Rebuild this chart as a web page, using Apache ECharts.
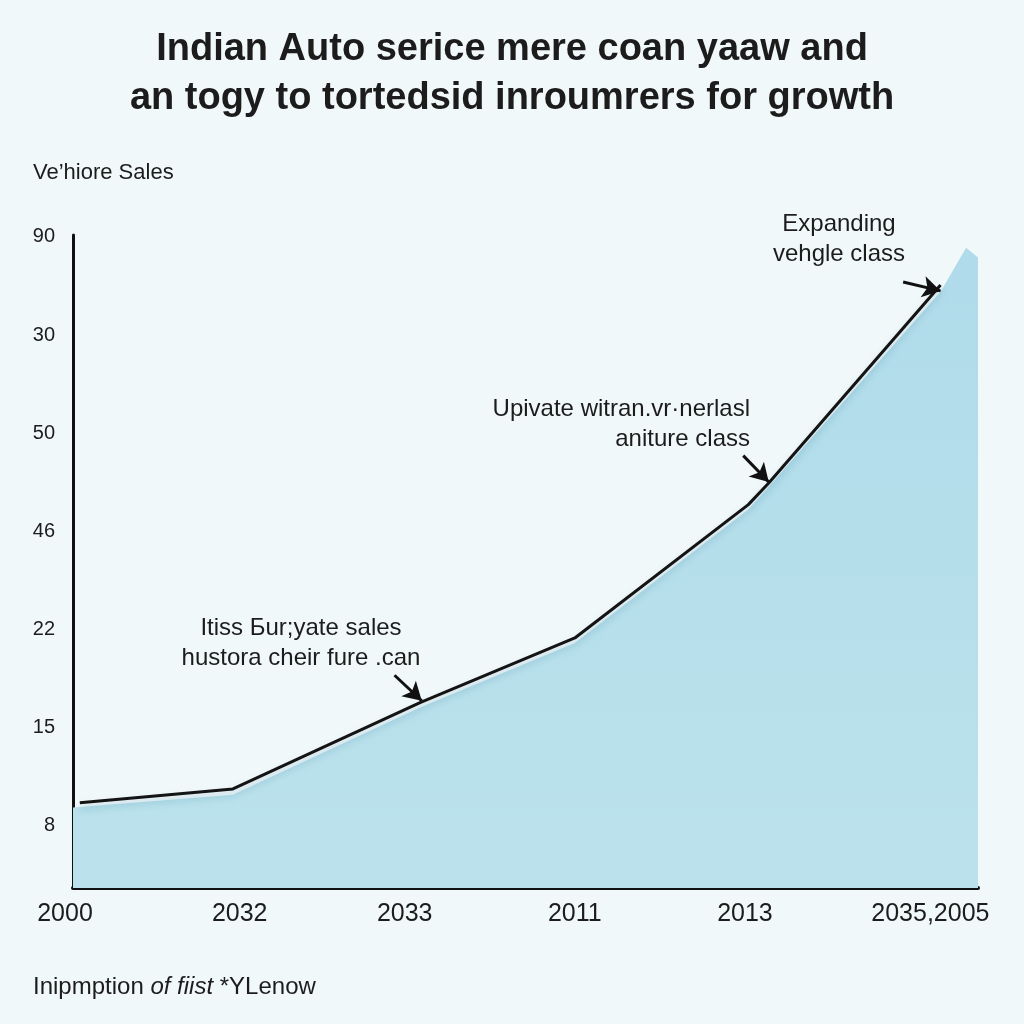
<!DOCTYPE html>
<html>
<head>
<meta charset="utf-8">
<style>
  html, body { margin: 0; padding: 0; background: #f1f8fa; }
  #chart { width: 1024px; height: 1024px; }
</style>
<script src="https://cdn.jsdelivr.net/npm/echarts@6/dist/echarts.min.js"></script>
</head>
<body>
<div id="chart"></div>
<script>
// ---- data (axis units) ----
var xTickLabels = ['2000', '2032', '2033', '2011', '2013', '2035,2005'];
var xTickPositions = [0, 0.98, 1.95, 2.95, 3.95, 5.04];
var yTickLabels = ['8', '15', '22', '46', '50', '30', '90'];
var yTickPositions = [0.64, 1.64, 2.64, 3.64, 4.64, 5.64, 6.64];

var lineX = [0.04, 0.94, 2.04, 2.95, 3.97, 4.09, 5.10];
var lineY = [0.87, 1.01, 1.89, 2.55, 3.91, 4.13, 6.15];

var areaX = [0.00, 0.94, 2.04, 2.95, 3.97, 5.10, 5.25, 5.32];
var areaY = [0.82, 0.95, 1.84, 2.50, 3.86, 6.08, 6.53, 6.43];

var arrows = [
  [[1.89, 2.17], [2.05, 1.91]],
  [[3.94, 4.41], [4.09, 4.14]],
  [[4.88, 6.18], [5.10, 6.09]]
];

var titleText = 'Indian Auto serice mere coan yaaw and\nan togy to tortedsid inrоumrers for growth';
var yAxisTitle = 'Ve\u2019hiore Sales';
var note1 = ['Itiss \u0411ur;yate sales', 'hustora cheir fure .can'];
var note2 = ['Upivate witran.vr\u00b7nerlasl', 'aniture class'];
var note3 = ['Expanding', 'vehgle class'];

function pairs(xs, ys) { return xs.map(function (x, i) { return [x, ys[i]]; }); }

var chart = echarts.init(document.getElementById('chart'));
var font = 'Liberation Sans, Arial, sans-serif';
var ink = '#1c1c1c';

chart.setOption({
  backgroundColor: '#f1f8fa',
  animation: false,
  title: {
    text: titleText,
    left: 'center',
    top: 20,
    textStyle: { fontFamily: font, fontSize: 38, fontWeight: 'bold', color: ink, lineHeight: 49 }
  },
  grid: { left: 73, right: 46, top: 235, bottom: 136, containLabel: false },
  xAxis: {
    type: 'value',
    min: 0,
    max: 5.32,
    splitLine: { show: false },
    axisLine: { onZero: false, lineStyle: { color: '#111', width: 4 } },
    axisTick: { show: false },
    axisLabel: {
      customValues: xTickPositions,
      margin: 14,
      fontFamily: font,
      fontSize: 25,
      color: ink,
      formatter: function (v) {
        var i = xTickPositions.indexOf(v);
        if (i === 0) return '{a|' + xTickLabels[i] + '}';
        return i >= 0 ? xTickLabels[i] : '';
      },
      rich: { a: { fontFamily: font, fontSize: 25, color: ink, padding: [0, 16, 0, 0] } }
    }
  },
  yAxis: {
    type: 'value',
    min: 0,
    max: 6.66,
    splitLine: { show: false },
    axisLine: { show: true, onZero: false, lineStyle: { color: '#111', width: 3 } },
    axisTick: { show: false },
    axisLabel: {
      customValues: yTickPositions,
      margin: 18,
      fontFamily: font,
      fontSize: 20,
      color: ink,
      formatter: function (v) {
        var i = yTickPositions.indexOf(v);
        return i >= 0 ? yTickLabels[i] : '';
      }
    }
  },
  series: [
    {
      type: 'line',
      data: pairs(areaX, areaY),
      symbol: 'none',
      lineStyle: { width: 0, opacity: 0 },
      areaStyle: {
        origin: 'start',
        opacity: 1,
        color: new echarts.graphic.LinearGradient(0, 0, 0, 1, [
          { offset: 0, color: '#b0dbea' },
          { offset: 1, color: '#bbe2ec' }
        ])
      },
      z: 1
    },
    {
      type: 'line',
      data: pairs(lineX, lineY),
      symbol: 'none',
      lineStyle: { color: '#141414', width: 3, shadowColor: 'rgba(70,140,170,0.4)', shadowBlur: 7, shadowOffsetY: 5 },
      z: 3,
      markLine: {
        silent: true,
        symbol: ['none', 'arrow'],
        symbolSize: [16, 18],
        label: { show: false },
        lineStyle: { color: '#111', width: 3, type: 'solid' },
        data: arrows.map(function (a) { return [{ coord: a[0] }, { coord: a[1] }]; })
      }
    }
  ],
  graphic: [
    { type: 'text', left: 33, top: 162, style: { text: yAxisTitle, font: '22px ' + font, fill: ink } },
    { type: 'text', left: 33, top: 975, style: {
        text: '{n|Inipmption }{i|of fiist}{n| *YLenow}',
        rich: {
          n: { font: '24px ' + font, fill: ink },
          i: { font: 'italic 24px ' + font, fill: ink }
        }
      } },
    { type: 'text', x: 301, y: 613, style: { text: note1.join('\n'), font: '24px ' + font, fill: ink, align: 'center', lineHeight: 30 } },
    { type: 'text', x: 750, y: 394, style: { text: note2.join('\n'), font: '24px ' + font, fill: ink, align: 'right', lineHeight: 30 } },
    { type: 'text', x: 839, y: 209, style: { text: note3.join('\n'), font: '24px ' + font, fill: ink, align: 'center', lineHeight: 30 } }
  ]
});
</script>
</body>
</html>
